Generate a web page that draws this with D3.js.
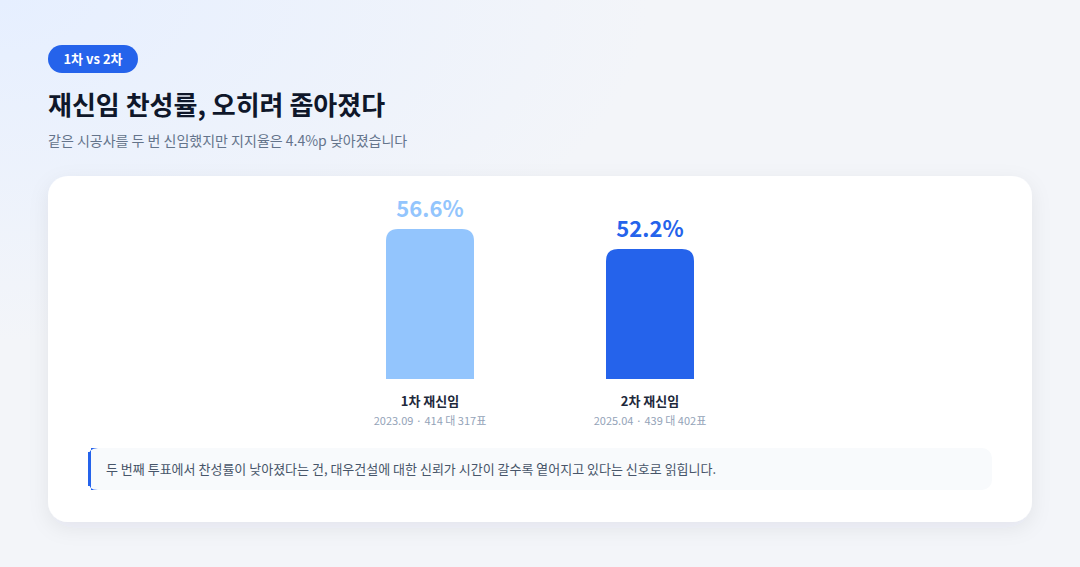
<!DOCTYPE html><html><head><meta charset="utf-8">
<script src="https://cdn.jsdelivr.net/npm/d3@7"></script>
<style>body{margin:0;font-family:"Noto Sans CJK KR","Noto Sans",sans-serif;}</style></head><body>
<svg id="c" width="1080" height="567"></svg>
<script>
const categories=["1차 재신임","2차 재신임"];
const values=[56.6,52.2];
const details=["2023.09 · 414 대 317표","2025.04 · 439 대 402표"];
const colors=["#93c5fd","#2563eb"];
const svg=d3.select("#c");
const defs=svg.append("defs");
const g1=defs.append("radialGradient").attr("id","bgg").attr("cx","0").attr("cy","0").attr("r","0.6");
g1.append("stop").attr("offset","0").attr("stop-color","#e6efff");
g1.append("stop").attr("offset","1").attr("stop-color","#f3f5f9");
const f=defs.append("filter").attr("id","sh").attr("x","-10%").attr("y","-10%").attr("width","120%").attr("height","130%");
f.append("feDropShadow").attr("dx",0).attr("dy",6).attr("stdDeviation",10).attr("flood-color","#1e293b").attr("flood-opacity",0.07);
svg.append("rect").attr("width",1080).attr("height",567).attr("fill","url(#bgg)");
svg.append("rect").attr("x",48).attr("y",45).attr("width",90).attr("height",28).attr("rx",14).attr("fill","#2563eb");
svg.append("text").attr("x",93).attr("y",64).attr("text-anchor","middle").attr("fill","#fff").attr("font-size",13).attr("font-weight",700).text("1차 vs 2차");
svg.append("text").attr("x",48).attr("y",115).attr("fill","#0f172a").attr("font-size",26).attr("font-weight",700).text("재신임 찬성률, 오히려 좁아졌다");
svg.append("text").attr("x",48).attr("y",146).attr("fill","#64748b").attr("font-size",14).text("같은 시공사를 두 번 신임했지만 지지율은 4.4%p 낮아졌습니다");
svg.append("rect").attr("x",48).attr("y",176).attr("width",984).attr("height",346).attr("rx",20).attr("fill","#fff").attr("filter","url(#sh)");
const x=d3.scaleBand().domain(categories).range([320,760]).paddingInner(0.6).paddingOuter(0.3);
const y=d3.scaleLinear().domain([23.6,60]).range([379,213.5]);
const r=12;
categories.forEach((c,i)=>{
  const x0=x(c),w=x.bandwidth(),top=y(values[i]),b=y.domain()[0];
  const yb=y(b);
  svg.append("path").attr("fill",colors[i]).attr("d",`M${x0},${yb}V${top+r}Q${x0},${top} ${x0+r},${top}H${x0+w-r}Q${x0+w},${top} ${x0+w},${top+r}V${yb}Z`);
  const cx=x0+w/2;
  svg.append("text").attr("x",cx).attr("y",top-12).attr("text-anchor","middle").attr("fill",i?"#2563eb":"#93c5fd").attr("font-size",22).attr("font-weight",700).text(values[i]+"%");
  svg.append("text").attr("x",cx).attr("y",406).attr("text-anchor","middle").attr("fill","#1e293b").attr("font-size",13).attr("font-weight",700).text(c);
  svg.append("text").attr("x",cx).attr("y",425).attr("text-anchor","middle").attr("fill","#94a3b8").attr("font-size",11).text(details[i]);
});
svg.append("rect").attr("x",88).attr("y",448).attr("width",904).attr("height",42).attr("rx",10).attr("fill","#f8fafc");
svg.append("path").attr("d","M98,448 Q88,448 88,458 V480 Q88,490 98,490 H91 V448Z").attr("fill","#2563eb");
svg.append("rect").attr("x",88).attr("y",452).attr("width",3).attr("height",34).attr("fill","#2563eb");
svg.append("text").attr("x",106).attr("y",474).attr("fill","#475569").attr("font-size",13).text("두 번째 투표에서 찬성률이 낮아졌다는 건, 대우건설에 대한 신뢰가 시간이 갈수록 옅어지고 있다는 신호로 읽힙니다.");
</script></body></html>
